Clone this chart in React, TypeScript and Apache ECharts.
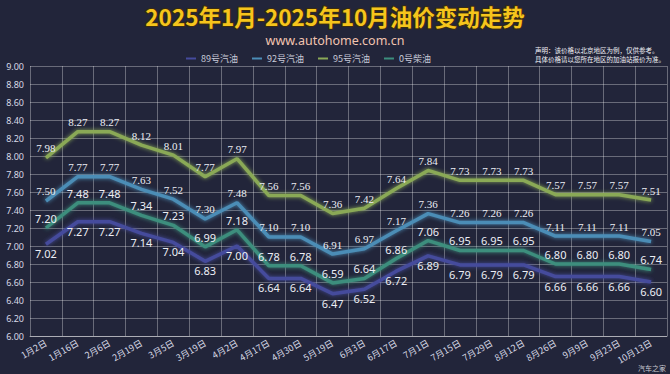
import React, { useEffect, useRef } from "react";
import * as echarts from "echarts";

const categories = ["1月2日", "1月16日", "2月6日", "2月19日", "3月5日", "3月19日", "4月2日", "4月17日", "4月30日", "5月19日", "6月3日", "6月17日", "7月1日", "7月15日", "7月29日", "8月12日", "8月26日", "9月9日", "9月23日", "10月13日"];
const gas89 = [7.02, 7.27, 7.27, 7.14, 7.04, 6.83, 7.0, 6.64, 6.64, 6.47, 6.52, 6.72, 6.89, 6.79, 6.79, 6.79, 6.66, 6.66, 6.66, 6.6];
const gas92 = [7.5, 7.77, 7.77, 7.63, 7.52, 7.3, 7.48, 7.1, 7.1, 6.91, 6.97, 7.17, 7.36, 7.26, 7.26, 7.26, 7.11, 7.11, 7.11, 7.05];
const gas95 = [7.98, 8.27, 8.27, 8.12, 8.01, 7.77, 7.97, 7.56, 7.56, 7.36, 7.42, 7.64, 7.84, 7.73, 7.73, 7.73, 7.57, 7.57, 7.57, 7.51];
const diesel0 = [7.2, 7.48, 7.48, 7.34, 7.23, 6.99, 7.18, 6.78, 6.78, 6.59, 6.64, 6.86, 7.06, 6.95, 6.95, 6.95, 6.8, 6.8, 6.8, 6.74];
const seriesNames = ["89号汽油", "92号汽油", "95号汽油", "0号柴油"];
const titleText = "2025年1月-2025年10月油价变动走势";
const subtitleText = "www.autohome.com.cn";

export default function App() {
  const ref = useRef<HTMLDivElement>(null);
  useEffect(() => {
    if (!ref.current) return;
    const chart = echarts.init(ref.current, null, { renderer: "svg" });
    const mk = (name: string, data: number[], color: string, pos: string, serif: boolean) => ({
      name,
      type: "line",
      data,
      symbol: "circle",
      symbolSize: 0.1,
      lineStyle: { color, width: 3.5, shadowColor: color, shadowBlur: 4 },
      itemStyle: { color },
      label: {
        show: true,
        position: pos,
        distance: 4,
        color: "#eceef5",
        fontSize: 11,
        fontFamily: serif ? "Liberation Serif" : "Noto Sans",
        formatter: (p: any) => p.value.toFixed(2),
      },
    });
    chart.setOption({
      animation: false,
      backgroundColor: "#22253a",
      legend: {
        data: seriesNames,
        top: 49,
        left: 181,
        itemWidth: 10,
        itemHeight: 2,
        itemGap: 14,
        icon: "rect",
        textStyle: { color: "#c8cad8", fontSize: 9, fontFamily: "Noto Sans CJK SC" },
      },
      grid: { left: 30, right: 3, top: 66, bottom: 38, containLabel: false },
      xAxis: {
        type: "category",
        data: categories,
        boundaryGap: true,
        axisLine: { lineStyle: { color: "rgba(255,255,255,0.45)" } },
        axisTick: { show: false },
        splitLine: { show: true, lineStyle: { color: "rgba(255,255,255,0.32)", width: 1 } },
        axisLabel: { color: "#d8dae6", fontSize: 9, rotate: 30, interval: 0, margin: 6, fontFamily: "Noto Sans CJK SC" },
      },
      yAxis: {
        type: "value",
        min: 6,
        max: 9,
        interval: 0.2,
        axisLine: { show: false },
        axisTick: { show: false },
        splitLine: { lineStyle: { color: "rgba(255,255,255,0.32)", width: 1 } },
        axisLabel: { color: "#d8dae6", fontSize: 9, margin: 6, formatter: (v: number) => v.toFixed(2), fontFamily: "Noto Sans" },
      },
      series: [
        mk(seriesNames[0], gas89, "#454b9c", "bottom", false),
        mk(seriesNames[1], gas92, "#4b8db6", "top", true),
        mk(seriesNames[2], gas95, "#8aa957", "top", true),
        mk(seriesNames[3], diesel0, "#3c8e7d", "top", false),
      ],
      graphic: [
        {
          type: "text",
          x: 335,
          y: 16,
          style: {
            text: titleText,
            align: "center",
            verticalAlign: "middle",
            fill: "#f6c51c",
            fontSize: 22.5,
            fontWeight: "bold",
            fontFamily: "Noto Sans CJK SC",
            stroke: "#3a2c10",
            lineWidth: 2,
          },
        },
        {
          type: "text",
          x: 335,
          y: 40.5,
          style: {
            text: subtitleText,
            align: "center",
            verticalAlign: "middle",
            fill: "#f2c4b0",
            fontSize: 12.5,
            fontFamily: "Noto Sans",
          },
        },
        {
          type: "text",
          right: 5,
          top: 45,
          style: {
            text: "声明：该价格以北京地区为例，仅供参考。\n具体价格请以您所在地区的加油站报价为准。",
            fill: "#f0f0f5",
            fontSize: 6.5,
            lineHeight: 9,
            fontFamily: "Noto Sans CJK SC",
          },
        },
        {
          type: "text",
          right: 4,
          bottom: 3,
          style: { text: "汽车之家", fill: "#c8c8d0", fontSize: 7, fontFamily: "Noto Sans CJK SC" },
        },
      ],
    });
    return () => chart.dispose();
  }, []);
  return <div ref={ref} style={{ position: "absolute", left: 0, top: 0, width: 670, height: 374 }} />;
}
